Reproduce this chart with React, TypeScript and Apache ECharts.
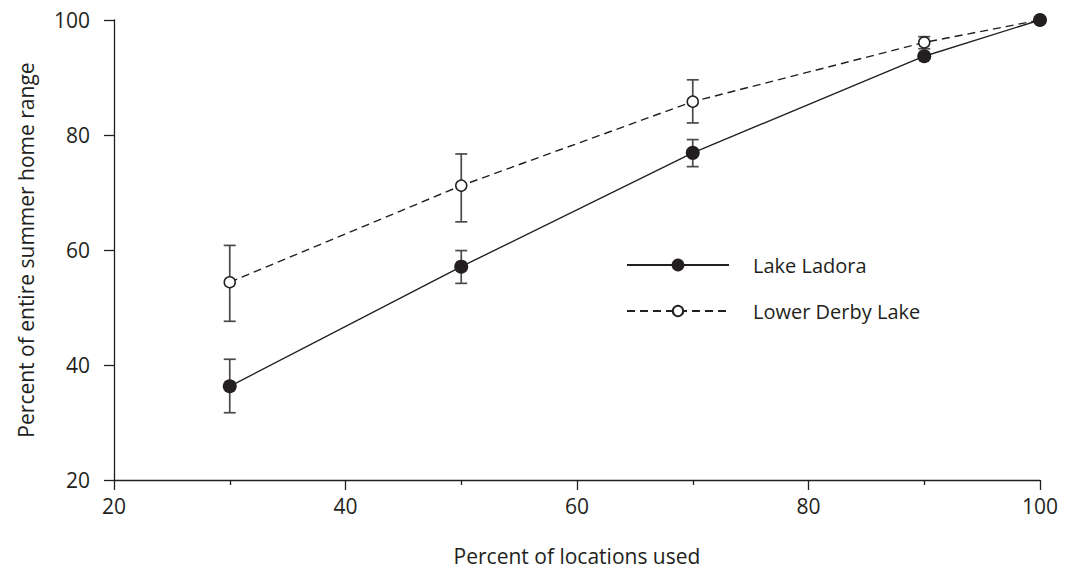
import React, { useEffect, useRef } from "react";
import * as echarts from "echarts";

const xValues = [30, 50, 70, 90, 100];
const ladoraMean = [36.3, 57.1, 76.9, 93.7, 100];
const ladoraLow = [31.7, 54.2, 74.5, 93.3, 100];
const ladoraHigh = [41.0, 59.9, 79.2, 94.1, 100];
const derbyMean = [54.4, 71.2, 85.8, 96.1, 100];
const derbyLow = [47.6, 64.9, 82.1, 95.0, 100];
const derbyHigh = [60.8, 76.7, 89.6, 97.1, 100];
const seriesNames = ["Lake Ladora", "Lower Derby Lake"];
const xAxisTitle = "Percent of locations used";
const yAxisTitle = "Percent of entire summer home range";

const FONT = "Open Sans";
const INK = "#231f20";

function errData(low: number[], high: number[]) {
  return xValues
    .map((x, i) => [x, low[i], high[i]])
    .filter((d) => d[2] - d[1] > 0.01);
}

function errorRender(params: any, api: any) {
  const x = api.value(0);
  const lo = api.coord([x, api.value(1)]);
  const hi = api.coord([x, api.value(2)]);
  const hw = 6;
  const style = { stroke: "#4a4a4a", lineWidth: 1.7 };
  return {
    type: "group",
    children: [
      { type: "line", shape: { x1: lo[0], y1: lo[1], x2: hi[0], y2: hi[1] }, style },
      { type: "line", shape: { x1: lo[0] - hw, y1: lo[1], x2: lo[0] + hw, y2: lo[1] }, style },
      { type: "line", shape: { x1: hi[0] - hw, y1: hi[1], x2: hi[0] + hw, y2: hi[1] }, style },
    ],
  };
}

export default function App() {
  const ref = useRef<HTMLDivElement>(null);
  useEffect(() => {
    if (!ref.current) return;
    const chart = echarts.init(ref.current, undefined, { renderer: "svg" });
    const axisText = { color: INK, fontFamily: FONT, fontSize: 21 };
    chart.setOption({
      animation: false,
      backgroundColor: "#fff",
      grid: { left: 114, right: 29, top: 20, bottom: 91 },
      legend: [
        {
          data: [seriesNames[0]],
          left: 626,
          top: 255,
          padding: 0,
          itemWidth: 102,
          itemHeight: 16,
          textStyle: { ...axisText, fontSize: 20, padding: [0, 0, 0, 19] },
        },
        {
          data: [seriesNames[1]],
          left: 626,
          top: 301,
          padding: 0,
          itemWidth: 102,
          itemHeight: 13,
          textStyle: { ...axisText, fontSize: 20, padding: [0, 0, 0, 19] },
        },
      ],
      xAxis: {
        type: "value",
        min: 20,
        max: 100,
        interval: 20,
        name: xAxisTitle,
        nameLocation: "middle",
        nameGap: 65,
        nameTextStyle: { ...axisText },
        axisLine: { lineStyle: { color: INK, width: 1.3 } },
        axisTick: { length: 10, lineStyle: { color: INK, width: 1.3 } },
        minorTick: { show: true, splitNumber: 2, length: 5, lineStyle: { color: INK, width: 1.3 } },
        axisLabel: { ...axisText, margin: 15 },
        splitLine: { show: false },
      },
      yAxis: {
        type: "value",
        min: 20,
        max: 100,
        interval: 20,
        name: yAxisTitle,
        nameLocation: "middle",
        nameGap: 78,
        nameTextStyle: { ...axisText },
        axisLine: { show: true, lineStyle: { color: INK, width: 1.3 } },
        axisTick: { show: true, length: 10, lineStyle: { color: INK, width: 1.3 } },
        axisLabel: { ...axisText, margin: 24 },
        splitLine: { show: false },
      },
      series: [
        {
          type: "custom",
          name: "ladoraErr",
          renderItem: errorRender,
          data: errData(ladoraLow, ladoraHigh),
          z: 1,
          silent: true,
        },
        {
          type: "custom",
          name: "derbyErr",
          renderItem: errorRender,
          data: errData(derbyLow, derbyHigh),
          z: 1,
          silent: true,
        },
        {
          type: "line",
          name: seriesNames[0],
          data: xValues.map((x, i) => [x, ladoraMean[i]]),
          symbol: "circle",
          symbolSize: 14,
          showAllSymbol: true,
          itemStyle: { color: INK, borderColor: INK, borderWidth: 0 },
          lineStyle: { color: INK, width: 1.4, type: "solid" },
          z: 3,
        },
        {
          type: "line",
          name: seriesNames[1],
          data: xValues.map((x, i) => [x, derbyMean[i]]),
          symbol: "circle",
          symbolSize: 11,
          showAllSymbol: true,
          itemStyle: { color: "#fff", borderColor: INK, borderWidth: 1.5 },
          lineStyle: { color: INK, width: 1.4, type: [8, 5] },
          z: 2,
        },
      ],
    });
    return () => chart.dispose();
  }, []);
  return (
    <div
      ref={ref}
      style={{ position: "fixed", left: 0, top: 0, width: 1069, height: 571, background: "#fff" }}
    />
  );
}
